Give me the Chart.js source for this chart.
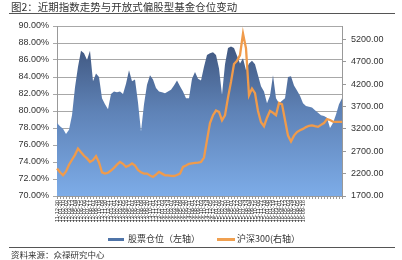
<!DOCTYPE html>
<html>
<head>
<meta charset="utf-8">
<script src="https://cdn.jsdelivr.net/npm/chart.js@4/dist/chart.umd.min.js"></script>
<style>
  html, body { margin: 0; padding: 0; background: #fff; }
  #wrap { position: relative; width: 402px; height: 260px; overflow: hidden; font-family: "Noto Sans CJK SC", "Noto Sans", sans-serif; color: #333; }
  #c { position: absolute; left: 0; top: 0; }
  .title { position: absolute; left: 11px; top: 0px; font-size: 10.5px; line-height: 13px; white-space: nowrap; color: #333; }
  .rule { position: absolute; left: 9px; width: 386px; height: 1px; background: #555; }
  .foot { position: absolute; left: 11px; top: 248px; font-size: 8.5px; line-height: 12px; white-space: nowrap; color: #333; }
  .lg { position: absolute; top: 233px; font-size: 9px; line-height: 12px; white-space: nowrap; color: #333; }
  .sw { position: absolute; height: 3px; top: 238px; }
</style>
</head>
<body>
<div id="wrap">
  <canvas id="c" width="402" height="260"></canvas>
  <div class="title">图2：近期指数走势与开放式偏股型基金仓位变动</div>
  <div class="rule" style="top:13px"></div>
  <div class="sw" style="left:108px;width:16px;background:#4f74a8"></div>
  <div class="lg" style="left:128px">股票仓位（左轴）</div>
  <div class="sw" style="left:217px;width:18px;background:#f0a050"></div>
  <div class="lg" style="left:237px">沪深300(右轴）</div>
  <div class="rule" style="top:247px"></div>
  <div class="foot">资料来源：众禄研究中心</div>
</div>
<script>
const categories = [
  "11-12-30","12-01-20","12-02-10","12-03-02","12-03-23","12-04-13","12-05-04","12-05-25","12-06-15","12-07-06",
  "12-07-27","12-08-17","12-09-07","12-09-28","12-10-19","12-11-09","12-11-30","12-12-21","13-01-11","13-02-01",
  "13-02-22","13-03-15","13-04-05","13-04-26","13-05-17","13-06-07","13-06-28","13-07-19","13-08-09","13-08-30",
  "13-09-20","13-10-11","13-11-01","13-11-22","13-12-13","14-01-03","14-01-24","14-02-14","14-03-07","14-03-28",
  "14-04-18","14-05-09","14-05-30","14-06-20","14-07-11","14-08-01","14-08-22","14-09-12","14-10-03","14-10-24",
  "14-11-14","14-12-05","14-12-26","15-01-16","15-02-06","15-02-27","15-03-20","15-04-10","15-05-01","15-05-22",
  "15-06-12","15-07-03","15-07-24","15-08-14","15-09-04","15-09-25","15-10-16","15-11-06","15-11-27","15-12-18",
  "16-01-08","16-01-29","16-02-19","16-03-11","16-04-01","16-04-22","16-05-13","16-06-03","16-06-24","16-07-15",
  "16-08-05","16-08-26","16-09-16","","","","","","","",
  "","","","","",""
];
const stockPosition = [
  78.6,78.2,77.9,77.3,77.8,79.5,82.8,85.2,87.1,86.8,
  86.0,87.1,83.5,84.4,84.0,81.5,80.8,80.2,82.0,82.3,
  82.2,82.3,82.0,83.2,84.8,83.5,83.7,81.0,77.6,80.8,
  83.1,84.2,83.7,82.7,82.3,82.2,82.1,82.3,82.5,83.0,
  83.6,82.9,82.3,81.5,81.5,83.8,84.6,83.8,83.6,85.2,
  86.6,86.8,86.9,86.6,85.0,81.9,85.5,87.4,87.6,87.4,
  86.5,85.6,86.2,84.8,85.6,85.9,85.5,84.2,82.9,82.3,
  80.9,81.8,84.2,81.5,80.9,81.2,81.5,84.0,84.1,83.0,
  82.4,81.8,80.9,80.6,80.5,80.4,80.1,79.8,79.5,79.4,
  79.2,78.0,78.6,79.6,80.8,81.5
];
const csi300 = [
  2313,2230,2163,2250,2400,2510,2620,2760,2680,2600,
  2540,2460,2500,2590,2450,2230,2200,2220,2270,2330,
  2400,2460,2420,2350,2380,2430,2380,2280,2230,2200,
  2200,2160,2125,2180,2237,2200,2163,2160,2150,2147,
  2170,2200,2350,2380,2420,2430,2440,2445,2460,2560,
  2950,3330,3505,3610,3580,3390,3505,3900,4250,4650,
  4720,4850,5330,5000,3950,4100,4000,3600,3350,3260,
  3450,3600,3560,3505,3780,3750,3400,3050,2920,3050,
  3130,3170,3200,3240,3270,3280,3260,3245,3290,3330,
  3420,3400,3360,3356,3356,3356
];
const leftTicks = [70,72,74,76,78,80,82,84,86,88,90];
const rightTicks = [1700,2200,2700,3200,3700,4200,4700,5200];

const tickFont = { family: "'Liberation Sans', Arial, sans-serif", size: 9 };

new Chart(document.getElementById('c'), {
  type: 'line',
  data: {
    labels: categories,
    datasets: [
      {
        label: '沪深300(右轴）',
        data: csi300,
        yAxisID: 'y1',
        borderColor: 'rgb(240,155,75)',
        borderWidth: 2.3,
        pointRadius: 0,
        tension: 0,
        fill: false,
        order: 1
      },
      {
        label: '股票仓位（左轴）',
        data: stockPosition,
        yAxisID: 'y',
        borderWidth: 0,
        borderColor: 'rgba(0,0,0,0)',
        pointRadius: 0,
        tension: 0,
        fill: 'start',
        order: 2,
        backgroundColor: (ctx) => {
          const ch = ctx.chart;
          const a = ch.chartArea;
          if (!a) return 'rgb(100,140,200)';
          const g = ch.ctx.createLinearGradient(0, a.top + 15, 0, a.bottom);
          g.addColorStop(0, 'rgb(62,84,124)');
          g.addColorStop(0.45, 'rgb(94,130,182)');
          g.addColorStop(1, 'rgb(125,172,232)');
          return g;
        }
      }
    ]
  },
  options: {
    responsive: false,
    animation: false,
    events: [],
    layout: { padding: { left: 0, right: 0, top: 26, bottom: 22 } },
    plugins: { legend: { display: false }, tooltip: { enabled: false }, title: { display: false } },
    scales: {
      x: {
        offset: false,
        grid: { display: true, drawOnChartArea: false, drawTicks: true, tickLength: 3, color: '#999', offset: false },
        border: { display: true, color: '#999', width: 1 },
        ticks: {
          autoSkip: false, maxRotation: 90, minRotation: 90,
          font: { family: "'Liberation Sans', Arial, sans-serif", size: 5.6 },
          color: '#333', padding: 1
        },
        afterFit: (s) => { s.height = 42; }
      },
      y: {
        position: 'left',
        min: 70, max: 90,
        afterBuildTicks: (s) => { s.ticks = leftTicks.map(v => ({ value: v })); },
        grid: { color: '#a8a8a8', lineWidth: 1, tickLength: 4, drawTicks: true },
        border: { display: true, color: '#999' },
        ticks: {
          font: tickFont, color: '#333', padding: 4,
          callback: (v) => v.toFixed(2) + '%'
        },
        afterFit: (s) => { s.width = 57; }
      },
      y1: {
        position: 'right',
        min: 1700, max: 5500,
        afterBuildTicks: (s) => { s.ticks = rightTicks.map(v => ({ value: v })); },
        grid: { drawOnChartArea: false, color: '#999', tickLength: 4, drawTicks: true },
        border: { display: true, color: '#999' },
        ticks: {
          font: tickFont, color: '#333', padding: 5,
          callback: (v) => v.toFixed(2)
        },
        afterFit: (s) => { s.width = 60; }
      }
    }
  }
});
</script>
</body>
</html>
